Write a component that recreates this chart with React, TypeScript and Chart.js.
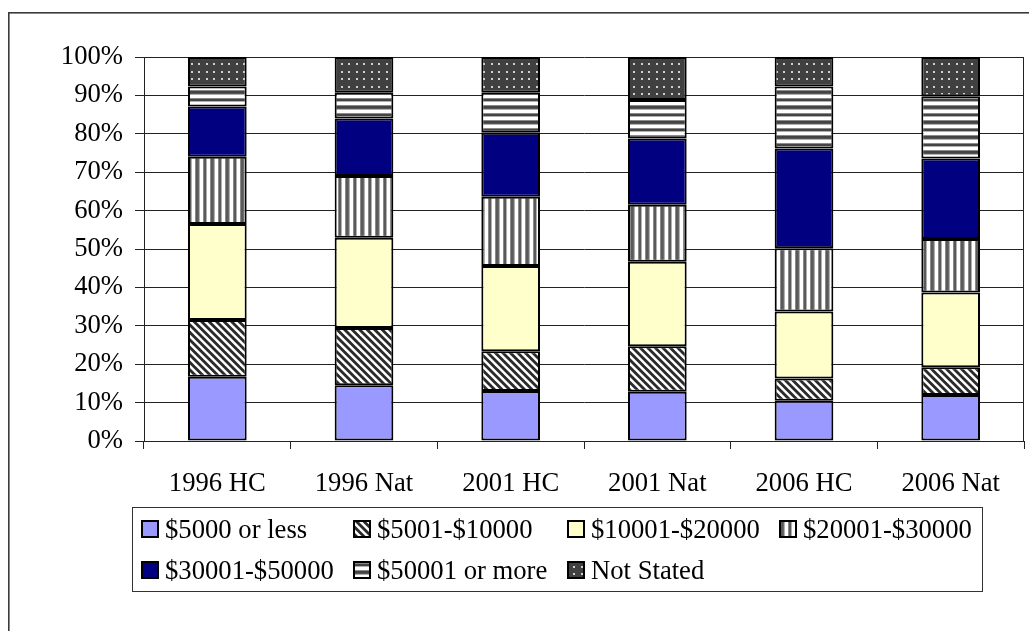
import React, { useEffect, useRef } from "react";
import { Chart, registerables } from "chart.js";

Chart.register(...registerables);

// Income bands by region/census year (share of households, %)
const categories = ["1996 HC", "1996 Nat", "2001 HC", "2001 Nat", "2006 HC", "2006 Nat"];
const seriesLabels = [
  "$5000 or less",
  "$5001-$10000",
  "$10001-$20000",
  "$20001-$30000",
  "$30001-$50000",
  "$50001 or more",
  "Not Stated",
];
const upTo5000 = [16.7, 14.5, 13.0, 12.8, 10.5, 12.0];
const from5001To10000 = [14.8, 14.9, 10.4, 11.9, 5.8, 7.2];
const from10001To20000 = [25.0, 23.5, 22.2, 22.0, 17.4, 19.5];
const from20001To30000 = [17.5, 16.1, 18.0, 14.8, 16.5, 13.9];
const from30001To50000 = [13.1, 15.0, 16.7, 17.3, 26.0, 21.0];
const over50000 = [5.2, 6.7, 10.4, 10.0, 16.1, 16.2];
const notStated = [7.7, 9.3, 9.3, 11.2, 7.7, 10.2];
const yTickValues = [0, 10, 20, 30, 40, 50, 60, 70, 80, 90, 100];

const FONT = "'Liberation Serif', 'Times New Roman', serif";
const FONT_SIZE = 26.67;

function tile(w: number, h: number, draw: (g: CanvasRenderingContext2D) => void): CanvasPattern {
  const c = document.createElement("canvas");
  c.width = w;
  c.height = h;
  const g = c.getContext("2d")!;
  draw(g);
  return g.createPattern(c, "repeat")!;
}

function diagonalStripes() {
  return tile(15, 15, (g) => {
    g.fillStyle = "#fff";
    g.fillRect(0, 0, 15, 15);
    g.strokeStyle = "#2a2a2a";
    g.lineWidth = 2.8;
    for (const off of [-15, -7.5, 0, 7.5, 15]) {
      g.beginPath();
      g.moveTo(off - 2, -2);
      g.lineTo(off + 17, 17);
      g.stroke();
    }
  });
}

function verticalStripes() {
  return tile(15, 4, (g) => {
    g.fillStyle = "#fff";
    g.fillRect(0, 0, 15, 4);
    const cols: [number, string][] = [
      [0, "#8a8a8a"], [1, "#5a5a5a"], [2, "#5a5a5a"], [3, "#6a6a6a"], [4, "#b0b0b0"],
      [8, "#8a8a8a"], [9, "#5a5a5a"], [10, "#5a5a5a"], [11, "#b0b0b0"],
    ];
    for (const [x, c] of cols) {
      g.fillStyle = c;
      g.fillRect(x, 0, 1, 4);
    }
  });
}

function horizontalStripes() {
  return tile(4, 15, (g) => {
    g.fillStyle = "#fff";
    g.fillRect(0, 0, 4, 15);
    const rows: [number, string][] = [
      [0, "#8a8a8a"], [1, "#444"], [2, "#444"], [3, "#555"], [4, "#b0b0b0"],
      [8, "#8a8a8a"], [9, "#444"], [10, "#444"], [11, "#b0b0b0"],
    ];
    for (const [y, c] of rows) {
      g.fillStyle = c;
      g.fillRect(0, y, 4, 1);
    }
  });
}

function dots() {
  return tile(15, 15, (g) => {
    g.fillStyle = "#404040";
    g.fillRect(0, 0, 15, 15);
    g.fillStyle = "#d0d0d0";
    for (const x of [3, 11]) for (const y of [3, 11]) g.fillRect(x, y, 2, 2);
  });
}

export default function App() {
  const canvasRef = useRef<HTMLCanvasElement | null>(null);

  useEffect(() => {
    const canvas = canvasRef.current;
    if (!canvas) return;

    const fills: (string | CanvasPattern)[] = [
      "#9999FF",
      diagonalStripes(),
      "#FFFFCC",
      verticalStripes(),
      "#000080",
      horizontalStripes(),
      dots(),
    ];
    const values = [
      upTo5000,
      from5001To10000,
      from10001To20000,
      from20001To30000,
      from30001To50000,
      over50000,
      notStated,
    ];

    // Outer frame and right-hand plot edge
    const framePlugin = {
      id: "frame",
      beforeDraw(chart: Chart) {
        const ctx = chart.ctx;
        ctx.save();
        ctx.fillStyle = "#fff";
        ctx.fillRect(0, 0, chart.width, chart.height);
        ctx.fillStyle = "#3a3a3a";
        ctx.fillRect(8, 12, chart.width - 8, 1.6);
        ctx.fillRect(8, 12, 1.6, chart.height - 12);
        ctx.restore();
      },
      afterDraw(chart: Chart) {
        const ctx = chart.ctx;
        const a = chart.chartArea;
        ctx.save();
        ctx.strokeStyle = "#222";
        ctx.lineWidth = 1;
        ctx.beginPath();
        const x = Math.round(a.right) - 0.5;
        ctx.moveTo(x, a.top);
        ctx.lineTo(x, a.bottom);
        ctx.stroke();
        ctx.restore();
      },
    };

    // Boxed legend laid out in four columns
    const legendPlugin = {
      id: "boxLegend",
      afterDraw(chart: Chart) {
        const ctx = chart.ctx;
        const ds = chart.data.datasets;
        const perRow = 4;
        ctx.save();
        ctx.font = `${FONT_SIZE}px ${FONT}`;
        ctx.textBaseline = "alphabetic";
        ctx.textAlign = "left";
        const colW: number[] = [];
        ds.forEach((d, i) => {
          const c = i % perRow;
          const w = ctx.measureText(String(d.label)).width;
          colW[c] = Math.max(colW[c] || 0, w);
        });
        const colX: number[] = [141];
        for (let c = 1; c < perRow; c++) colX[c] = colX[c - 1] + 24 + colW[c - 1] + 19.5;

        ctx.strokeStyle = "#333";
        ctx.lineWidth = 1;
        ctx.strokeRect(132.5, 507.5, 850, 84);

        const baselines = [538, 579];
        ds.forEach((d, i) => {
          const r = Math.floor(i / perRow);
          const c = i % perRow;
          const x = Math.round(colX[c]);
          const base = baselines[r];
          ctx.fillStyle = "#000";
          ctx.fillRect(x, base - 18, 18, 18);
          ctx.fillStyle = d.backgroundColor as any;
          ctx.fillRect(x + 2, base - 16, 14, 14);
          ctx.fillStyle = "#000";
          ctx.fillText(String(d.label), x + 24, base);
        });
        ctx.restore();
      },
    };

    const chart = new Chart(canvas, {
      type: "bar",
      data: {
        labels: categories,
        datasets: seriesLabels.map((label, i) => ({
          label,
          data: values[i],
          backgroundColor: fills[i] as any,
          borderColor: "#000",
          borderWidth: 2,
          borderSkipped: false,
          inflateAmount: 0,
          barPercentage: 0.4,
          categoryPercentage: 1.0,
        })),
      },
      options: {
        responsive: false,
        animation: false,
        devicePixelRatio: 1,
        layout: { padding: { top: 57, left: 0, right: 5, bottom: 0 } },
        plugins: {
          legend: { display: false },
          tooltip: { enabled: false },
          title: { display: false },
        },
        scales: {
          x: {
            stacked: true,
            afterFit(scale: any) {
              scale.height = 190;
            },
            grid: {
              offset: true,
              drawOnChartArea: false,
              tickLength: 8,
              tickColor: "#222",
              color: "#222",
            },
            border: { display: true, color: "#222", width: 1 },
            ticks: {
              color: "#000",
              padding: 19,
              font: { family: FONT, size: FONT_SIZE },
              maxRotation: 0,
            },
          },
          y: {
            stacked: true,
            min: 0,
            max: 100,
            afterFit(scale: any) {
              scale.width = 144;
            },
            afterBuildTicks(scale: any) {
              scale.ticks = yTickValues.map((v) => ({ value: v }));
            },
            grid: {
              color: "#222",
              lineWidth: 1,
              tickLength: 9,
              tickColor: "#222",
            },
            border: { display: true, color: "#222", width: 1 },
            ticks: {
              color: "#000",
              padding: 12,
              font: { family: FONT, size: FONT_SIZE },
              callback: (v: any) => `${v}%`,
            },
          },
        },
      },
      plugins: [framePlugin, legendPlugin],
    });

    return () => chart.destroy();
  }, []);

  return (
    <canvas
      ref={canvasRef}
      width={1029}
      height={631}
      style={{ position: "absolute", left: 0, top: 0, width: 1029, height: 631, display: "block" }}
    />
  );
}
